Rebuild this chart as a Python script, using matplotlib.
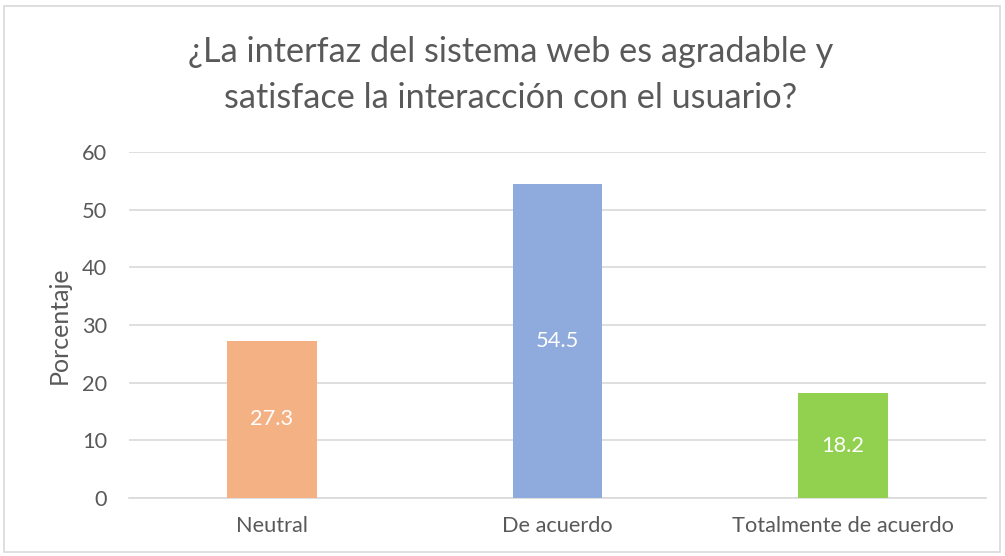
import matplotlib
matplotlib.use("Agg")
import matplotlib.pyplot as plt
from matplotlib.patches import Rectangle

categories = ["Neutral", "De acuerdo", "Totalmente de acuerdo"]
values = [27.3, 54.5, 18.2]
colors = ["#F4B183", "#8FAADC", "#92D050"]
yticks = [0, 10, 20, 30, 40, 50, 60]
title = "¿La interfaz del sistema web es agradable y\nsatisface la interacción con el usuario?"
ylabel = "Porcentaje"

plt.rcParams['font.family'] = ['Lato', 'DejaVu Sans']
W, H = 1005, 556
fig = plt.figure(figsize=(W/100, H/100), dpi=100)
fig.patches.append(Rectangle((4/W, 4/H), (W-9)/W, (H-10)/H, transform=fig.transFigure,
                             fill=False, edgecolor="#D9D9D9", linewidth=1.2))

left, right, top, bottom = 129.25, 985.75, 152, 498
ax = fig.add_axes([left/W, (H-bottom)/H, (right-left)/W, (bottom-top)/H])
x = range(len(categories))
bars = ax.bar(x, values, width=0.315, color=colors, zorder=3)
for b, v in zip(bars, values):
    ax.text(b.get_x() + b.get_width()/2, v/2, f"{v}", ha="center", va="center",
            color="white", fontsize=15.7, zorder=4)
ax.set_xlim(-0.5, len(categories)-0.5)
ax.set_ylim(0, 60)
ax.set_yticks(yticks)
ax.set_xticks(list(x))
ax.set_xticklabels(categories)
ax.grid(axis="y", color="#D9D9D9", linewidth=1.2, zorder=0)
for s in ["top", "right", "left"]:
    ax.spines[s].set_visible(False)
ax.spines["bottom"].set_color("#D9D9D9")
ax.spines["bottom"].set_linewidth(1.2)
ax.tick_params(axis="both", length=0, colors="#595959", labelsize=15.7)
ax.tick_params(axis="y", pad=16)
ax.tick_params(axis="x", pad=13)
ax.set_ylabel(ylabel, fontsize=18, color="#595959", labelpad=8)
fig.text(511/W, 1-75/H, title, ha="center", va="center", fontsize=24.7,
         color="#595959", linespacing=1.5)
fig.savefig("out.png", dpi=100)
